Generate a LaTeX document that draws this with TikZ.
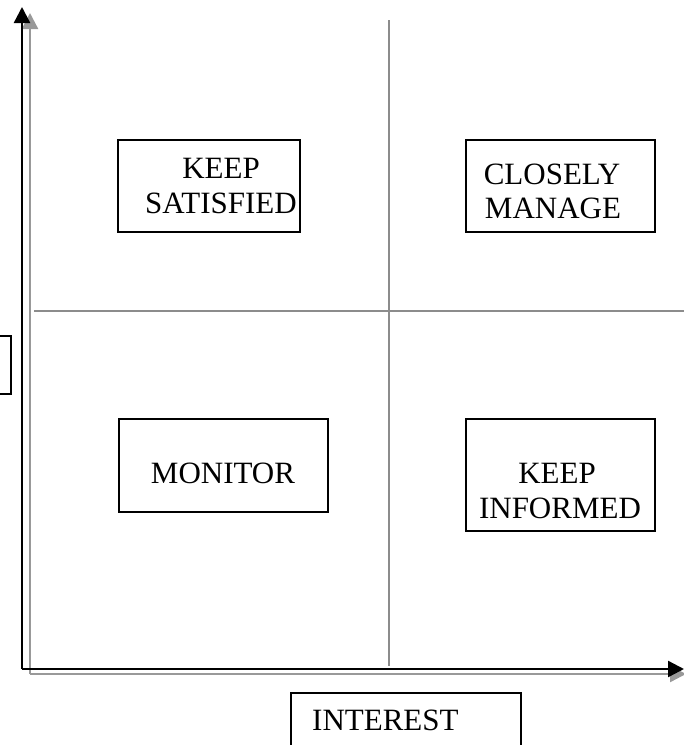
\documentclass[tikz,border=0pt]{standalone}
\usepackage{fontspec}
\setmainfont{Liberation Serif}
\usetikzlibrary{arrows.meta}
\begin{document}
\begin{tikzpicture}[x=1pt,y=-1pt,
  box/.style={draw=black,line width=2pt,inner sep=0pt,anchor=north west},
  lbl/.style={font=\fontsize{31}{35}\selectfont,align=center,inner sep=0pt,anchor=base},
  axis/.style={line width=2.4pt,-{Triangle[length=16pt,width=16pt]}},
  shadow/.style={draw=gray!80,line width=2.4pt,-{Triangle[length=16pt,width=16pt]}},
  quad/.style={draw=gray!90,line width=2.4pt}]
\useasboundingbox (0,0) rectangle (684,745);
% quadrant lines
\coordinate (vt) at (389,20); \coordinate (vb) at (389,666);
\coordinate (hl) at (34,311); \coordinate (hr) at (684,311);
\draw[quad] (vt) -- (vb);
\draw[quad] (hl) -- (hr);
% shadow axes
\coordinate (go) at (30,674); \coordinate (gy) at (30,13); \coordinate (gx) at (686,674);
\draw[shadow,gray!80] (go) -- (gy);
\draw[shadow,gray!80] (go) -- (gx);
% axes
\coordinate (o) at (22,669); \coordinate (yt) at (22,7); \coordinate (xt) at (684,669);
\draw[axis] (o) -- (yt);
\draw[axis] (o) -- (xt);
% boxes
\node[box,minimum width=182pt,minimum height=92pt] (bs) at (117,139) {};
\node[box,minimum width=189pt,minimum height=92pt] (bc) at (465,139) {};
\node[box,minimum width=209pt,minimum height=93pt] (bm) at (118,418) {};
\node[box,minimum width=189pt,minimum height=112pt] (bi) at (465,418) {};
\node[box,minimum width=230pt,minimum height=80pt] (bint) at (290,692) {};
\node[box,minimum width=30pt,minimum height=58pt] (bp) at (-20,335) {};
% labels
\node[lbl] (ks1) at (221,178) {KEEP};
\node[lbl] (ks2) at (221,213) {SATISFIED};
\node[lbl] (cm1) at (552,184) {CLOSELY};
\node[lbl] (cm2) at (553,218) {MANAGE};
\node[lbl] (mo) at (223,483) {MONITOR};
\node[lbl] (ki1) at (557,483) {KEEP};
\node[lbl] (ki2) at (560,518) {INFORMED};
\node[lbl,anchor=base west] (in) at (312,730) {INTEREST};
\end{tikzpicture}
\end{document}
